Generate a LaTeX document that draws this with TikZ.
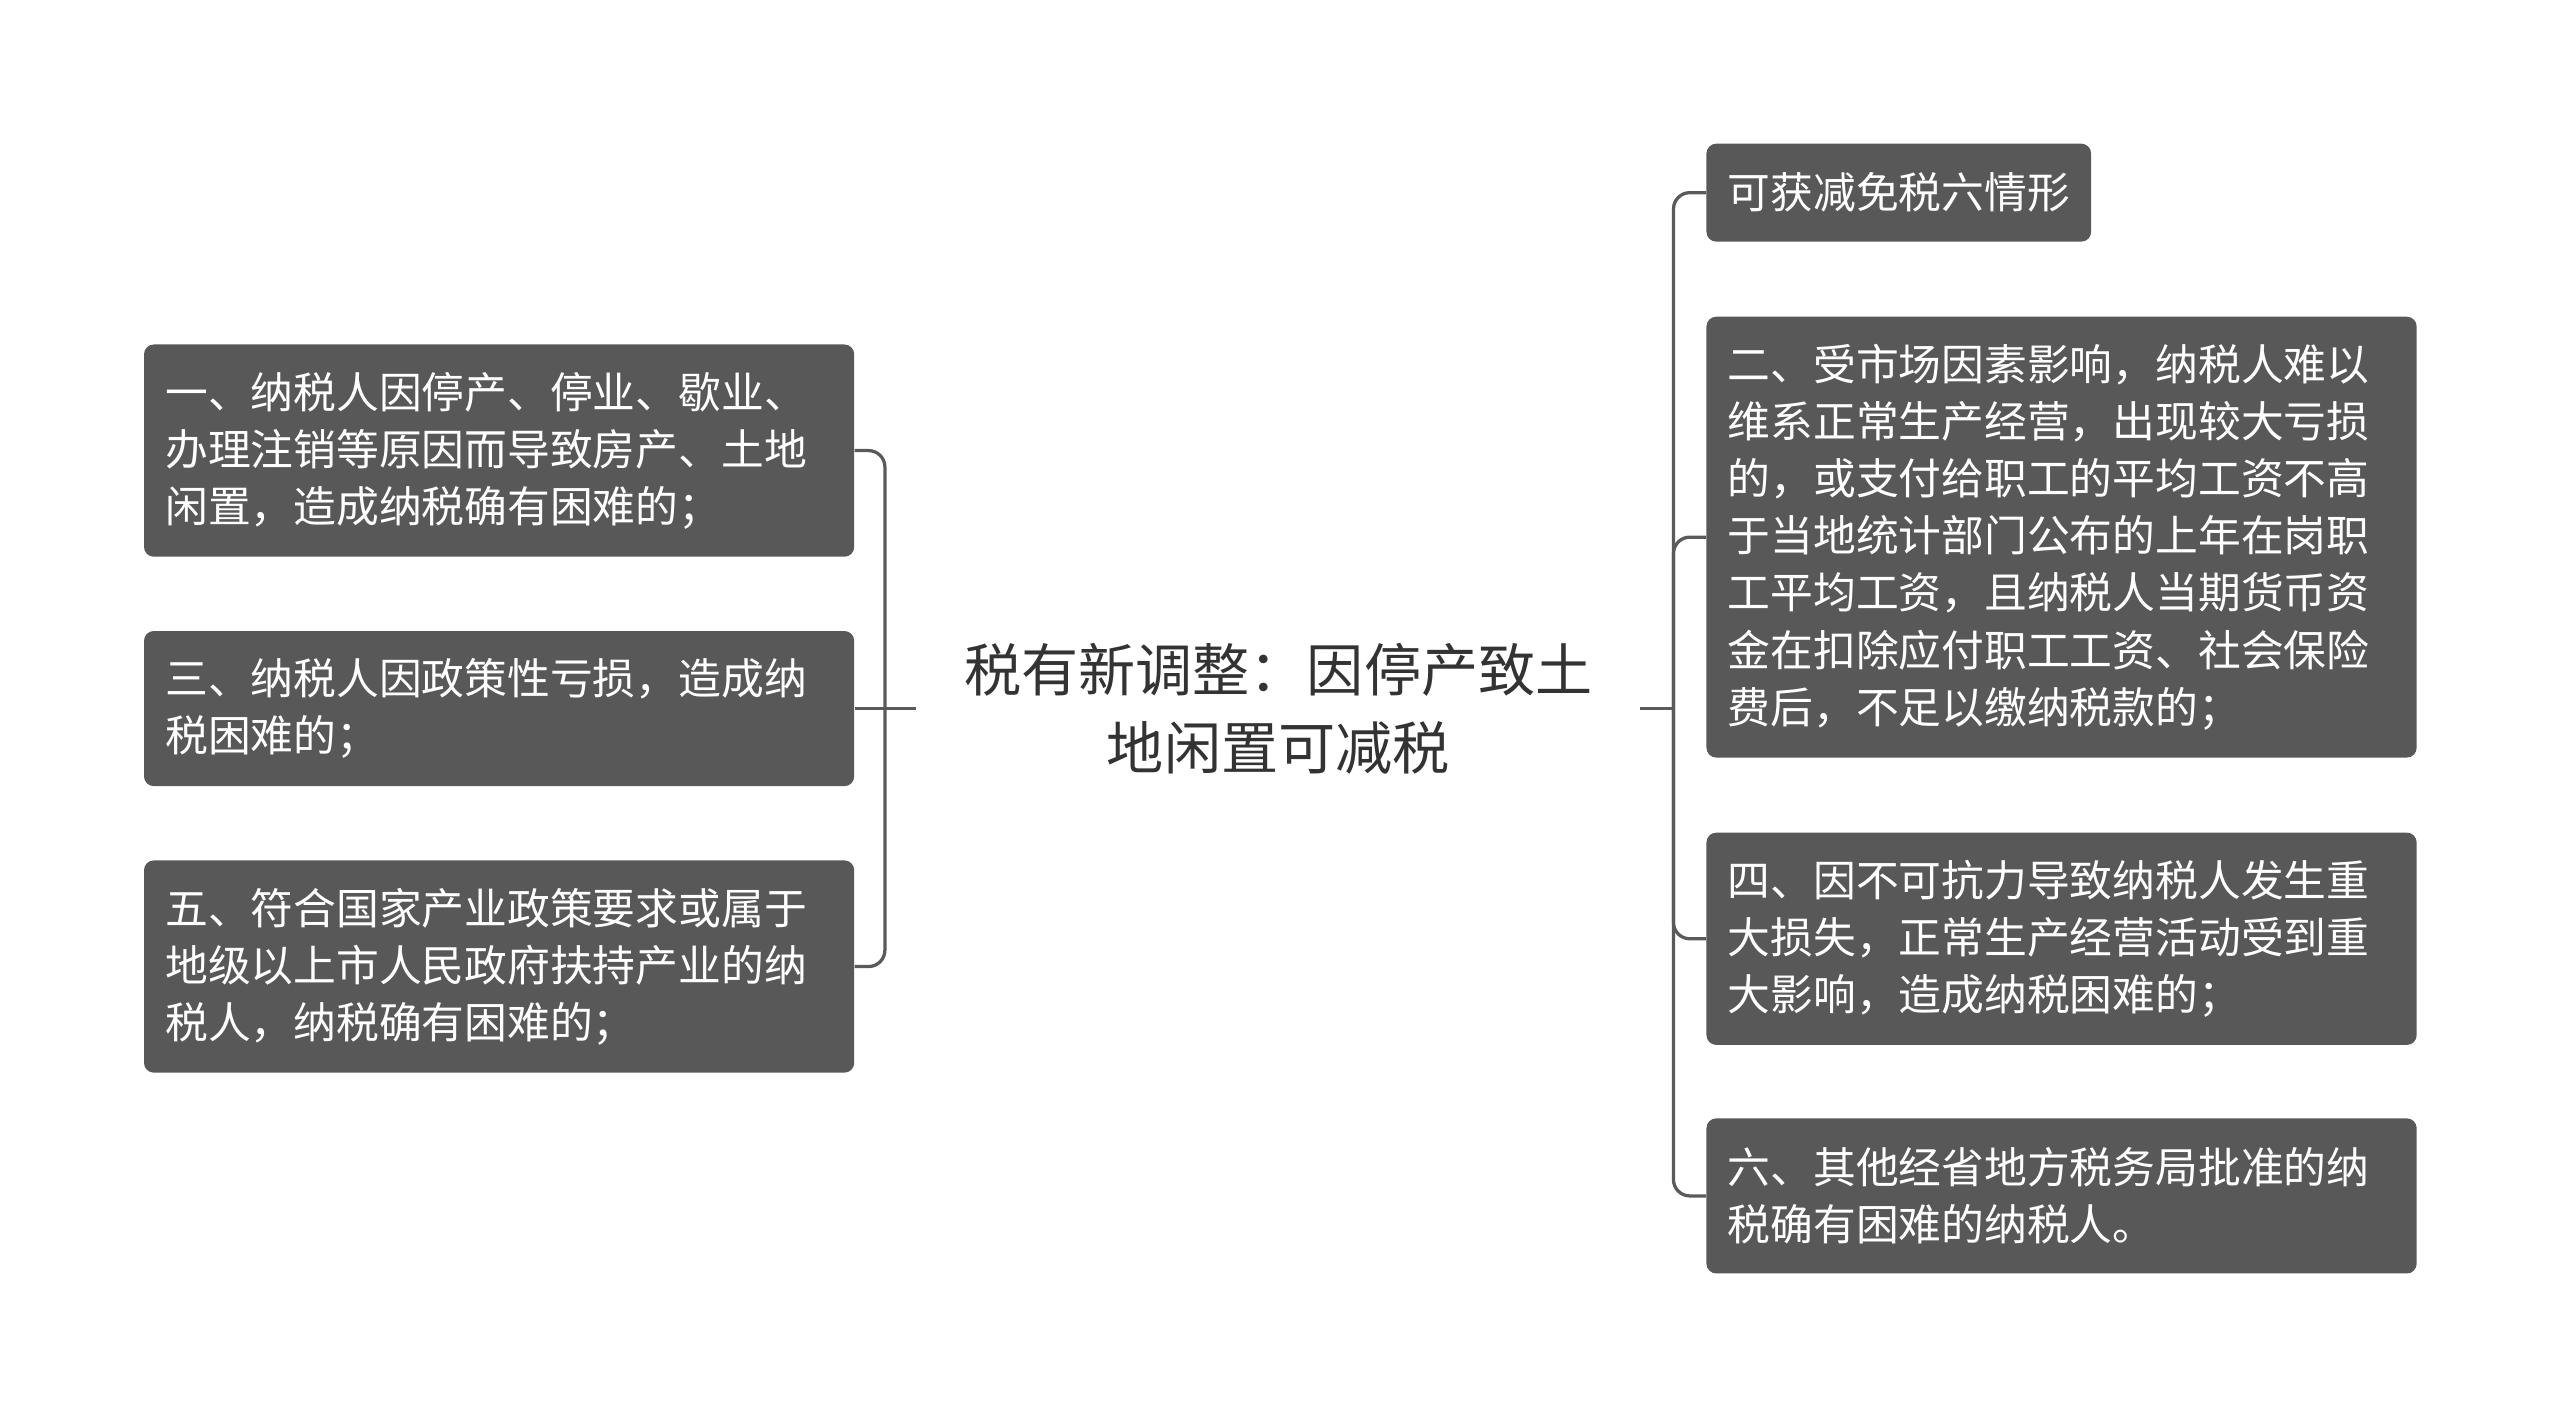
\documentclass[tikz,border=0pt]{standalone}
\usepackage{fontspec}
\newfontfamily\cjk{Noto Sans CJK SC}
\usepackage{tikz}
\usetikzlibrary{positioning}
\definecolor{boxgray}{HTML}{585858}
\definecolor{linegray}{HTML}{5A5A5A}
\definecolor{titlegray}{HTML}{333333}

\begin{document}
\begin{tikzpicture}[x=1pt, y=-1pt,
  leaf/.style={fill=boxgray, text=white, rounded corners=6pt, inner xsep=13pt, inner ysep=0pt,
    align=left, anchor=west, font=\cjk\fontsize{26.2}{35}\selectfont},
  wide/.style={text width=409pt},
  root/.style={text=titlegray, align=center, inner xsep=29pt, inner ysep=0pt,
    font=\cjk\fontsize{35}{48}\selectfont},
  link/.style={draw=linegray, line width=2pt, rounded corners=10pt}]
\useasboundingbox (0,0) rectangle (1568,869);

% centre
\node[root] (root) at (783,434) {税有新调整：因停产致土\\地闲置可减税};

% left side
\node[leaf, wide, minimum height=130pt] (b1) at (88,276) {一、纳税人因停产、停业、歇业、\\办理注销等原因而导致房产、土地\\闲置，造成纳税确有困难的；};
\node[leaf, wide, minimum height=95pt] (b3) at (88,434) {三、纳税人因政策性亏损，造成纳\\税困难的；};
\node[leaf, wide, minimum height=130pt] (b5) at (88,592) {五、符合国家产业政策要求或属于\\地级以上市人民政府扶持产业的纳\\税人，纳税确有困难的；};

% right side
\node[leaf, minimum height=60pt] (r0) at (1045,118) {可获减免税六情形};
\node[leaf, wide, minimum height=270pt] (r2) at (1045,329) {二、受市场因素影响，纳税人难以\\维系正常生产经营，出现较大亏损\\的，或支付给职工的平均工资不高\\于当地统计部门公布的上年在岗职\\工平均工资，且纳税人当期货币资\\金在扣除应付职工工资、社会保险\\费后，不足以缴纳税款的；};
\node[leaf, wide, minimum height=130pt] (r4) at (1045,575) {四、因不可抗力导致纳税人发生重\\大损失，正常生产经营活动受到重\\大影响，造成纳税困难的；};
\node[leaf, wide, minimum height=95pt] (r6) at (1045,732.5) {六、其他经省地方税务局批准的纳\\税确有困难的纳税人。};

% connectors
\coordinate (lj) at (542,434);
\coordinate (rj) at (1025,434);
\draw[link] (root.west) -- (b3.east);
\draw[link] (b1.east) -| (lj);
\draw[link] (b5.east) -| (lj);
\draw[link] (root.east) -- (rj);
\foreach \n in {r0,r2,r4,r6} \draw[link] (rj) |- (\n.west);
\end{tikzpicture}
\end{document}
